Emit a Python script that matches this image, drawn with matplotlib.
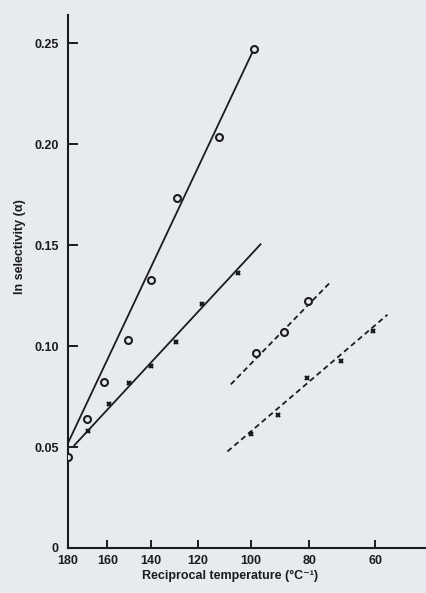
import numpy as np
import matplotlib
matplotlib.use("Agg")
import matplotlib.pyplot as plt

plt.rcParams["font.family"] = ["Liberation Sans", "DejaVu Sans"]
plt.rcParams["font.weight"] = "bold"
plt.rcParams["axes.labelweight"] = "bold"

# Temperatures (deg C) and ln selectivity for the four data sets
temp_a = [180, 170, 161.5, 150, 139.6, 128.8, 112, 98.8]
lnsel_a = [0.0453, 0.0638, 0.0823, 0.1029, 0.1326, 0.1733, 0.2035, 0.2473]
fit_temp_a = [180, 98.8]
fit_lnsel_a = [0.052, 0.2473]

temp_b = [169.8, 159.3, 149.7, 139.9, 129.1, 118.3, 104.6]
lnsel_b = [0.0579, 0.0714, 0.0818, 0.0899, 0.1021, 0.1206, 0.1361]
fit_temp_b = [177, 96.3]
fit_lnsel_b = [0.0505, 0.1507]

temp_c = [98.05, 88.35, 80.46]
lnsel_c = [0.0966, 0.1069, 0.1223]
fit_temp_c = [107.35, 73.5]
fit_lnsel_c = [0.081, 0.1314]

temp_d = [99.9, 90.3, 80.9, 69.97, 60.7]
lnsel_d = [0.0562, 0.0658, 0.0843, 0.0928, 0.1074]
fit_temp_d = [108.6, 56.5]
fit_lnsel_d = [0.0478, 0.1155]

x_ticks = [180, 160, 140, 120, 100, 80, 60]
y_ticks = [0, 0.05, 0.10, 0.15, 0.20, 0.25]
y_tick_labels = ["0", "0.05", "0.10", "0.15", "0.20", "0.25"]

paper = "#e7eaef"
ink = "#1c1c1c"


def recip_fwd(t):
    t = np.asarray(t, dtype=float)
    with np.errstate(divide="ignore", invalid="ignore"):
        return -1.0 / (t + 273.15)


def recip_inv(u):
    u = np.asarray(u, dtype=float)
    with np.errstate(divide="ignore", invalid="ignore"):
        return -1.0 / u - 273.15


fig = plt.figure(figsize=(4.26, 5.93), dpi=100, facecolor=paper)
ax = fig.add_axes([68 / 426, 45 / 593, 358 / 426, 533 / 593], facecolor=paper)
ax.set_xscale("function", functions=(recip_fwd, recip_inv))

lw = 1.3
ax.plot(fit_temp_a, fit_lnsel_a, color=ink, lw=lw, solid_capstyle="butt")
ax.plot(fit_temp_b, fit_lnsel_b, color=ink, lw=lw, solid_capstyle="butt")
ax.plot(fit_temp_c, fit_lnsel_c, color=ink, lw=lw, dashes=(3, 2))
ax.plot(fit_temp_d, fit_lnsel_d, color=ink, lw=lw, dashes=(3, 2))

circ = dict(marker="o", ms=5, mfc=paper, mec=ink, mew=1.5, ls="none", zorder=3)
cross = dict(marker="x", ms=3.5, mec=ink, mew=1.6, ls="none", zorder=3)
ax.plot(temp_a, lnsel_a, **circ)
ax.plot(temp_c, lnsel_c, **circ)
ax.plot(temp_b, lnsel_b, **cross)
ax.plot(temp_d, lnsel_d, **cross)

ax.set_xlim(180, 46)
ax.set_ylim(0, 0.2639)

for side in ("top", "right"):
    ax.spines[side].set_visible(False)
for side in ("left", "bottom"):
    ax.spines[side].set_linewidth(1.5)
    ax.spines[side].set_color(ink)

ax.set_xticks(x_ticks)
ax.set_xticklabels([str(v) for v in x_ticks])
ax.set_yticks(y_ticks)
ax.set_yticklabels(y_tick_labels)
ax.minorticks_off()
ax.tick_params(axis="y", direction="in", length=7, width=1.4, pad=6.5,
               labelsize=9, colors=ink)
ax.tick_params(axis="x", direction="in", length=5.5, width=1.4, pad=5,
               labelsize=9, colors=ink)

ax.set_xlabel("Reciprocal temperature (°C⁻¹)", fontsize=9, color=ink)
ax.xaxis.set_label_coords(0.4525, -0.041)
ax.set_ylabel("ln selectivity (α)", fontsize=9, color=ink)
ax.yaxis.set_label_coords(-0.118, 0.565)

fig.savefig("out.png", dpi=100, facecolor=paper)
